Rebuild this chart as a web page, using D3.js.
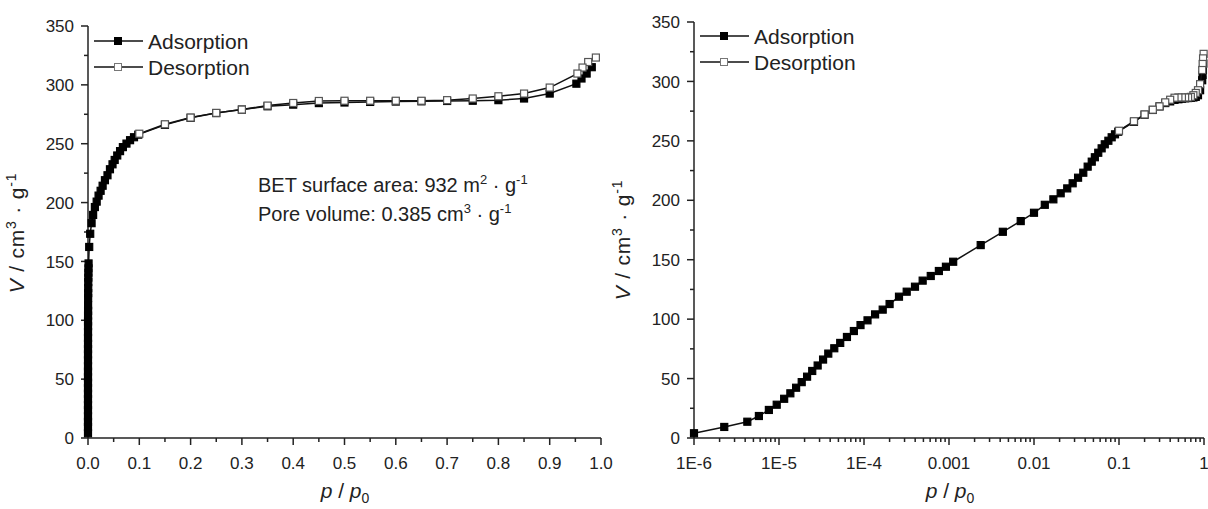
<!DOCTYPE html>
<html>
<head>
<meta charset="utf-8">
<script src="https://cdn.jsdelivr.net/npm/d3@7"></script>
<style>
  body { margin: 0; background: #fff; }
  svg text { font-family: Arial, "Liberation Sans", sans-serif; fill: #222; }
</style>
</head>
<body>
<svg id="chart" width="1208" height="509"></svg>
<script>
// ! Data
var ads_p = [1e-6, 2.27e-6, 4.24e-6, 5.8e-6, 7.6e-6, 9.4e-6, 1.15e-5, 1.36e-5, 1.59e-5, 1.85e-5,
  2.14e-5, 2.46e-5, 2.85e-5, 3.3e-5, 3.8e-5, 4.47e-5, 5.25e-5, 6.3e-5, 7.6e-5, 9.1e-5,
  1.1e-4, 1.35e-4, 1.66e-4, 2.0e-4, 2.58e-4, 3.18e-4, 3.98e-4, 4.9e-4, 6.1e-4, 7.6e-4,
  9.2e-4, 1.12e-3, 2.36e-3, 4.3e-3, 6.98e-3, 1.0e-2, 1.34e-2, 1.69e-2, 2.06e-2, 2.46e-2,
  2.85e-2, 3.3e-2, 3.8e-2, 4.28e-2, 4.78e-2, 5.2e-2, 5.7e-2, 6.25e-2, 6.8e-2, 7.5e-2,
  8.2e-2, 8.97e-2, 0.098, 0.15, 0.2, 0.25, 0.3, 0.35, 0.4, 0.45,
  0.5, 0.55, 0.6, 0.65, 0.7, 0.75, 0.8, 0.85, 0.9, 0.952,
  0.962, 0.972, 0.982];
var ads_v = [4, 9.3, 13.7, 18.5, 23.6, 28, 33, 37.6, 42.3, 47,
  51.6, 56.4, 61, 66, 71, 75.5, 80, 85, 90, 95,
  99, 104, 108, 112.7, 118.9, 123.1, 127.3, 132.4, 136.3, 140.5,
  144.1, 148.3, 162.3, 173.5, 182.5, 189.5, 196.2, 200.8, 205.9, 210,
  214.3, 219, 223.2, 228.3, 232.5, 236.2, 240, 243.7, 247.1, 250.1,
  253, 255.5, 257.7, 266, 272, 276, 279, 281.8, 283.2, 284.5,
  285, 285.5, 285.8, 286, 286.3, 286.5, 287, 288.4, 292.6, 301,
  305.4, 309.6, 315];

var des_p = [0.99, 0.975, 0.964, 0.954, 0.9, 0.85, 0.8, 0.75, 0.7, 0.65,
  0.6, 0.55, 0.5, 0.45, 0.4, 0.35, 0.3, 0.25, 0.2, 0.15, 0.1];
var des_v = [323.2, 319.4, 314.7, 309.6, 297.7, 292.6, 290.3, 288.4, 287, 286.5,
  286.5, 286.5, 286.5, 286.3, 284.6, 282.4, 279, 276.2, 272.2, 266.5, 258.5];

var series_names = ["Adsorption", "Desorption"];
var y_ticks = [0, 50, 100, 150, 200, 250, 300, 350];
var x_ticks_lin = [0.0, 0.1, 0.2, 0.3, 0.4, 0.5, 0.6, 0.7, 0.8, 0.9, 1.0];
var x_ticks_log = [1e-6, 1e-5, 1e-4, 1e-3, 1e-2, 1e-1, 1];
var x_tick_labels_log = ["1E-6", "1E-5", "1E-4", "0.001", "0.01", "0.1", "1"];

var adsorption = ads_p.map(function(p, i) { return {p: p, v: ads_v[i]}; });
var desorption = des_p.map(function(p, i) { return {p: p, v: des_v[i]}; });

var svg = d3.select("#chart");
var markSize = 7;

// ! helpers
function drawAxes(g, x, y, xTicks, xMinor, xFormat) {
  // x axis
  var xa = g.append("g").attr("transform", "translate(0," + y.range()[0] + ")");
  xa.append("line").attr("x1", x.range()[0]).attr("x2", x.range()[1])
    .attr("stroke", "#222").attr("stroke-width", 1.5);
  xa.selectAll(".minor").data(xMinor).enter().append("line")
    .attr("x1", function(d) { return x(d); }).attr("x2", function(d) { return x(d); })
    .attr("y1", 0).attr("y2", 4).attr("stroke", "#222").attr("stroke-width", 1.5);
  xa.selectAll(".major").data(xTicks).enter().append("line")
    .attr("x1", function(d) { return x(d); }).attr("x2", function(d) { return x(d); })
    .attr("y1", 0).attr("y2", 7).attr("stroke", "#222").attr("stroke-width", 1.5);
  xa.selectAll(".lab").data(xTicks).enter().append("text")
    .attr("x", function(d) { return x(d); }).attr("y", 31)
    .attr("text-anchor", "middle").style("font-size", "17px")
    .text(function(d, i) { return xFormat(d, i); });

  // y axis
  var ya = g.append("g").attr("transform", "translate(" + x.range()[0] + ",0)");
  ya.append("line").attr("y1", y.range()[0]).attr("y2", y.range()[1])
    .attr("stroke", "#222").attr("stroke-width", 1.5);
  var yMinor = d3.range(25, 350, 50);
  ya.selectAll(".minor").data(yMinor).enter().append("line")
    .attr("y1", function(d) { return y(d); }).attr("y2", function(d) { return y(d); })
    .attr("x1", 0).attr("x2", -4).attr("stroke", "#222").attr("stroke-width", 1.5);
  ya.selectAll(".major").data(y_ticks).enter().append("line")
    .attr("y1", function(d) { return y(d); }).attr("y2", function(d) { return y(d); })
    .attr("x1", 0).attr("x2", -7).attr("stroke", "#222").attr("stroke-width", 1.5);
  ya.selectAll(".lab").data(y_ticks).enter().append("text")
    .attr("x", -14).attr("y", function(d) { return y(d); })
    .attr("dy", "0.36em").attr("text-anchor", "end").style("font-size", "17px")
    .text(function(d) { return d; });
}

function drawSeries(g, x, y, data, filled) {
  var line = d3.line().x(function(d) { return x(d.p); }).y(function(d) { return y(d.v); });
  g.append("path").datum(data).attr("d", line)
    .attr("fill", "none").attr("stroke", "#111").attr("stroke-width", 1.5);
  g.selectAll(null).data(data).enter().append("rect")
    .attr("x", function(d) { return x(d.p) - markSize / 2; })
    .attr("y", function(d) { return y(d.v) - markSize / 2; })
    .attr("width", markSize).attr("height", markSize)
    .attr("fill", filled ? "#000" : "#fff")
    .attr("stroke", filled ? "#000" : "#555").attr("stroke-width", 1.2);
}

function drawLegend(g, x0, y0) {
  series_names.forEach(function(name, i) {
    var yy = y0 + i * 26;
    g.append("line").attr("x1", x0).attr("x2", x0 + 49).attr("y1", yy).attr("y2", yy)
      .attr("stroke", "#111").attr("stroke-width", 1.5);
    g.append("rect").attr("x", x0 + 24 - 3.5).attr("y", yy - 3.5)
      .attr("width", 7).attr("height", 7)
      .attr("fill", i === 0 ? "#000" : "#fff")
      .attr("stroke", i === 0 ? "#000" : "#777").attr("stroke-width", 1);
    g.append("text").attr("x", x0 + 54).attr("y", yy).attr("dy", "0.36em")
      .style("font-size", "21px").text(name);
  });
}

function yLabel(g, cx, cy) {
  var t = g.append("text").attr("transform", "translate(" + cx + "," + cy + ") rotate(-90)")
    .attr("text-anchor", "middle").style("font-size", "21px").style("letter-spacing", "0.8px");
  t.append("tspan").style("font-style", "italic").text("V");
  t.append("tspan").text(" / cm");
  t.append("tspan").attr("dy", -8).style("font-size", "14px").text("3");
  t.append("tspan").attr("dy", 8).text(" \u00b7 g");
  t.append("tspan").attr("dy", -8).style("font-size", "14px").text("-1");
}

function xLabel(g, cx, cy) {
  var t = g.append("text").attr("x", cx).attr("y", cy)
    .attr("text-anchor", "middle").style("font-size", "21px");
  t.append("tspan").style("font-style", "italic").text("p");
  t.append("tspan").text(" / ");
  t.append("tspan").style("font-style", "italic").text("p");
  t.append("tspan").attr("dy", 5).style("font-size", "14px").text("0");
}

function annotation(g, x0, y0, main, sup) {
  var t = g.append("text").attr("x", x0).attr("y", y0).style("font-size", "20px");
  t.append("tspan").text(main);
  t.append("tspan").attr("dy", -8).style("font-size", "13px").text(sup);
  t.append("tspan").attr("dy", 8).text(" \u00b7 g");
  t.append("tspan").attr("dy", -8).style("font-size", "13px").text("-1");
}

// ! Left panel: linear
var xLin = d3.scaleLinear().domain([0, 1]).range([88, 601]);
var yLeft = d3.scaleLinear().domain([0, 350]).range([438, 26]);
var gL = svg.append("g");
drawAxes(gL, xLin, yLeft, x_ticks_lin, d3.range(0.05, 1, 0.1),
  function(d) { return d3.format(".1f")(d); });
drawSeries(gL, xLin, yLeft, adsorption, true);
drawSeries(gL, xLin, yLeft, desorption, false);
drawLegend(gL, 94, 41);
yLabel(gL, 24, 233);
xLabel(gL, 345, 498);
annotation(gL, 258, 192, "BET surface area: 932 m", "2");
annotation(gL, 258, 221, "Pore volume: 0.385 cm", "3");

// ! Right panel: log
var xLog = d3.scaleLog().domain([1e-6, 1]).range([694, 1204]);
var yRight = d3.scaleLinear().domain([0, 350]).range([438, 22]);
var logMinor = [];
for (var e = -6; e < 0; e++) {
  for (var m = 2; m <= 9; m++) logMinor.push(m * Math.pow(10, e));
}
var gR = svg.append("g");
drawAxes(gR, xLog, yRight, x_ticks_log, logMinor,
  function(d, i) { return x_tick_labels_log[i]; });
drawSeries(gR, xLog, yRight, adsorption, true);
drawSeries(gR, xLog, yRight, desorption, false);
drawLegend(gR, 700, 36);
yLabel(gR, 630, 240);
xLabel(gR, 950, 498);
</script>
</body>
</html>
